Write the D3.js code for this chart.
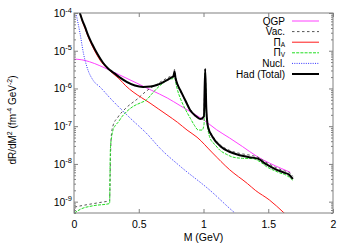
<!DOCTYPE html>
<html><head><meta charset="utf-8">
<script src="https://cdn.jsdelivr.net/npm/d3@7/dist/d3.min.js"></script>
<style>
html,body{margin:0;padding:0;background:#fff;}
svg{display:block;font-family:"Liberation Sans",Arial,Helvetica,sans-serif;}
</style></head><body>
<svg id="c" width="350" height="245"></svg>
<script>
// ---- data (M in GeV, dR/dM^2 in fm^-4 GeV^-2) ----
const qgpM = [0.0, 0.06, 0.12, 0.2, 0.263, 0.35, 0.48, 0.6, 0.72, 0.82, 0.9, 1.0, 1.1, 1.2, 1.3, 1.413, 1.51, 1.6, 1.67];
const qgpR = [6.0e-6, 5.75e-6, 5.1e-6, 4.0e-6, 3.2e-6, 2.3e-6, 1.41e-6, 8.9e-7, 5.6e-7, 3.5e-7, 2.4e-7, 1.48e-7, 8.1e-8, 4.9e-8, 2.9e-8, 1.58e-8, 1.05e-8, 7.6e-9, 6.0e-9];

const vacM = [0.005, 0.1, 0.2, 0.275, 0.281, 0.287, 0.30, 0.34, 0.40, 0.49, 0.56, 0.64, 0.72, 0.757, 0.768, 0.776, 0.784, 0.80, 0.84, 0.88, 0.92, 0.96, 0.99, 1.003, 1.013, 1.022, 1.035, 1.07, 1.13, 1.20, 1.28, 1.36, 1.42, 1.48, 1.55, 1.62, 1.66, 1.69];
const vacR = [7.2e-10, 8.3e-10, 9.5e-10, 1.07e-9, 1.26e-8, 5.0e-8, 1.0e-7, 1.75e-7, 3.0e-7, 5.3e-7, 8.6e-7, 1.3e-6, 1.9e-6, 2.2e-6, 2.3e-6, 3.2e-6, 2.1e-6, 1.26e-6, 6.3e-7, 3.5e-7, 2.2e-7, 1.66e-7, 1.51e-7, 2.0e-7, 3.2e-6, 2.8e-7, 1.0e-7, 5.6e-8, 3.2e-8, 2.3e-8, 1.9e-8, 1.7e-8, 1.51e-8, 1.12e-8, 8.3e-9, 6.6e-9, 6.0e-9, 4.7e-9];

const piAM = [0.047, 0.065, 0.085, 0.11, 0.14, 0.18, 0.224, 0.255, 0.30, 0.35, 0.40, 0.456, 0.52, 0.587, 0.65, 0.718, 0.80, 0.873, 0.95, 1.07, 1.20, 1.34, 1.40, 1.51, 1.62, 1.70];
const piAR = [1.0e-4, 5.9e-5, 3.9e-5, 2.3e-5, 1.35e-5, 7.4e-6, 4.4e-6, 3.5e-6, 2.5e-6, 1.78e-6, 1.17e-6, 8.1e-7, 5.75e-7, 4.1e-7, 2.9e-7, 2.0e-7, 1.26e-7, 7.9e-8, 5.1e-8, 1.95e-8, 7.1e-9, 3.0e-9, 2.0e-9, 1.1e-9, 5.1e-10, 2.8e-10];

const piVM = [0.003, 0.05, 0.15, 0.275, 0.281, 0.29, 0.30, 0.32, 0.34, 0.37, 0.41, 0.46, 0.51, 0.56, 0.60, 0.64, 0.69, 0.74, 0.765, 0.776, 0.784, 0.80, 0.82, 0.86, 0.90, 0.93, 0.96, 0.99, 1.004, 1.013, 1.022, 1.035, 1.05, 1.09, 1.127, 1.18, 1.228, 1.30, 1.38, 1.44, 1.49, 1.55, 1.59, 1.64, 1.69];
const piVR = [5.0e-10, 6.3e-10, 7.8e-10, 8.9e-10, 2.5e-8, 5.0e-8, 7.6e-8, 1.05e-7, 1.26e-7, 1.78e-7, 2.5e-7, 3.4e-7, 4.1e-7, 5.0e-7, 7.1e-7, 1.0e-6, 1.41e-6, 1.78e-6, 1.82e-6, 2.5e-6, 1.58e-6, 8.9e-7, 5.6e-7, 2.8e-7, 1.58e-7, 1.05e-7, 7.9e-8, 7.9e-8, 1.12e-7, 2.5e-6, 2.0e-7, 7.9e-8, 4.9e-8, 3.2e-8, 2.3e-8, 1.78e-8, 1.51e-8, 1.41e-8, 1.38e-8, 1.12e-8, 8.3e-9, 6.6e-9, 5.75e-9, 5.0e-9, 3.7e-9];

const nuclM = [0.015, 0.046, 0.075, 0.1, 0.15, 0.2, 0.278, 0.432, 0.571, 0.664, 0.819, 1.05, 1.243, 1.30];
const nuclR = [1.0e-4, 2.95e-5, 7.9e-6, 3.7e-6, 1.6e-6, 1.1e-6, 5.6e-7, 1.66e-7, 5.9e-8, 2.6e-8, 8.7e-9, 2.0e-9, 5.0e-10, 3.5e-10];

const hadM = [0.045, 0.065, 0.085, 0.11, 0.14, 0.18, 0.224, 0.263, 0.30, 0.35, 0.41, 0.47, 0.533, 0.59, 0.64, 0.68, 0.718, 0.757, 0.768, 0.776, 0.784, 0.80, 0.82, 0.86, 0.896, 0.94, 0.975, 1.003, 1.013, 1.022, 1.035, 1.07, 1.13, 1.20, 1.28, 1.35, 1.42, 1.48, 1.55, 1.62, 1.66, 1.69];
const hadR = [1.0e-4, 6.3e-5, 4.27e-5, 2.51e-5, 1.51e-5, 8.3e-6, 4.8e-6, 3.4e-6, 2.7e-6, 2.0e-6, 1.48e-6, 1.2e-6, 1.1e-6, 1.12e-6, 1.23e-6, 1.41e-6, 1.66e-6, 2.0e-6, 2.1e-6, 2.8e-6, 1.9e-6, 1.26e-6, 9.1e-7, 4.8e-7, 2.7e-7, 1.86e-7, 1.55e-7, 1.78e-7, 3.3e-6, 2.8e-7, 9.5e-8, 5.2e-8, 2.95e-8, 2.1e-8, 1.7e-8, 1.51e-8, 1.38e-8, 1.0e-8, 7.4e-9, 5.9e-9, 5.2e-9, 4.0e-9];

const xTicks = [0, 0.5, 1, 1.5, 2];
const xTickLabels = ["0", "0.5", "1", "1.5", "2"];
const yPowers = [-9, -8, -7, -6, -5, -4];
const legendLabels = ["QGP", "Vac.", "Π|A", "Π|V", "Nucl.", "Had (Total)"];

// ---- layout ----
const L = 74, R = 333, T = 13, B = 213;
const svg = d3.select("#c");
const x = d3.scaleLinear().domain([0, 2]).range([L, R]);
const y = d3.scaleLog().domain([5e-10, 1e-4]).range([B, T]);
const axisCol = "#808080";

svg.append("defs").append("clipPath").attr("id", "clip")
  .append("rect").attr("x", L).attr("y", T).attr("width", R - L).attr("height", B - T);

const series = [
  {M: qgpM, R: qgpR, color: "#ff40ff", w: 1, dash: null},
  {M: vacM, R: vacR, color: "#555555", w: 1, dash: "2.5,2.5"},
  {M: piAM, R: piAR, color: "#ff1a1a", w: 1, dash: null},
  {M: piVM, R: piVR, color: "#22dd22", w: 1, dash: "3,1.2"},
  {M: nuclM, R: nuclR, color: "#3333ff", w: 1, dash: "1,1.3"},
  {M: hadM, R: hadR, color: "#000000", w: 2, dash: null}
];

const line = d3.line().x(d => x(d[0])).y(d => y(d[1])).curve(d3.curveMonotoneX);
const g = svg.append("g").attr("clip-path", "url(#clip)");
series.forEach(s => {
  const pts = s.M.map((m, i) => [m, s.R[i]]);
  g.append("path").attr("d", line(pts)).attr("fill", "none")
    .attr("stroke", s.color).attr("stroke-width", s.w)
    .attr("stroke-dasharray", s.dash).attr("stroke-linejoin", "round");
});

// ---- axes ----
const axG = svg.append("g");
const xb = d3.axisBottom(x).tickValues(xTicks).tickFormat((d, i) => xTickLabels[i]).tickSizeInner(-4).tickSizeOuter(0).tickPadding(8);
const xa = axG.append("g").attr("transform", `translate(0,${B})`).call(xb);
const xt = d3.axisTop(x).tickValues(xTicks).tickFormat("").tickSizeInner(-4).tickSizeOuter(0);
axG.append("g").attr("transform", `translate(0,${T})`).call(xt);
const minor = [];
for (let p = -10; p <= -5; p++) for (let k = 2; k <= 9; k++) {
  const v = k * Math.pow(10, p);
  if (v >= 5e-10 && v <= 1e-4) minor.push(v);
}
const majors = yPowers.map(p => Math.pow(10, p));
const yl = d3.axisLeft(y).tickValues(majors).tickFormat("").tickSizeInner(-4).tickSizeOuter(0);
const ylm = d3.axisLeft(y).tickValues(minor).tickFormat("").tickSizeInner(-2).tickSizeOuter(0);
const yr = d3.axisRight(y).tickValues(majors).tickFormat("").tickSizeInner(-4).tickSizeOuter(0);
const yrm = d3.axisRight(y).tickValues(minor).tickFormat("").tickSizeInner(-2).tickSizeOuter(0);
[[yl, L], [ylm, L], [yr, R], [yrm, R]].forEach(([a, px]) => axG.append("g").attr("transform", `translate(${px},0)`).call(a));
axG.selectAll(".domain").remove();
axG.selectAll(".tick line").attr("stroke", axisCol);
xa.selectAll(".tick text").attr("font-size", 10.5).attr("fill", "#000").attr("font-family", "Liberation Sans, Arial, sans-serif");

svg.append("rect").attr("x", L).attr("y", T).attr("width", R - L).attr("height", B - T)
  .attr("fill", "none").attr("stroke", axisCol).attr("stroke-width", 1);

yPowers.forEach(p => {
  const t = svg.append("text").attr("x", 72).attr("y", y(Math.pow(10, p)) + 4)
    .attr("text-anchor", "end").attr("font-size", 10.5).attr("fill", "#000");
  t.append("tspan").text("10");
  t.append("tspan").attr("dy", -4.5).attr("font-size", 7.5).text(String(p));
});

svg.append("text").attr("x", (L + R) / 2).attr("y", 241).attr("text-anchor", "middle")
  .attr("font-size", 10.5).attr("fill", "#000").text("M (GeV)");
const yt = svg.append("text").attr("transform", "translate(16,120) rotate(-90)")
  .attr("text-anchor", "middle").attr("font-size", 10).attr("fill", "#000");
yt.append("tspan").text("dR/dM");
yt.append("tspan").attr("dy", -4).attr("font-size", 7).text("2");
yt.append("tspan").attr("dy", 4).text(" (fm");
yt.append("tspan").attr("dy", -4).attr("font-size", 7).text("-4");
yt.append("tspan").attr("dy", 4).text(" GeV");
yt.append("tspan").attr("dy", -4).attr("font-size", 7).text("-2");
yt.append("tspan").attr("dy", 4).text(")");

const legY0 = 21, legDy = 10.6;
legendLabels.forEach((lab, i) => {
  const yy = legY0 + i * legDy;
  const s = series[i];
  const t = svg.append("text").attr("x", 285).attr("y", yy + 3.5).attr("text-anchor", "end")
    .attr("font-size", 10).attr("fill", "#000");
  const parts = lab.split("|");
  t.append("tspan").text(parts[0]);
  if (parts[1]) t.append("tspan").attr("dy", 1).attr("font-size", 6.5).text(parts[1]);
  svg.append("line").attr("x1", 292).attr("x2", 319).attr("y1", yy).attr("y2", yy)
    .attr("stroke", s.color).attr("stroke-width", s.w).attr("stroke-dasharray", s.dash);
});
</script>
</body></html>
